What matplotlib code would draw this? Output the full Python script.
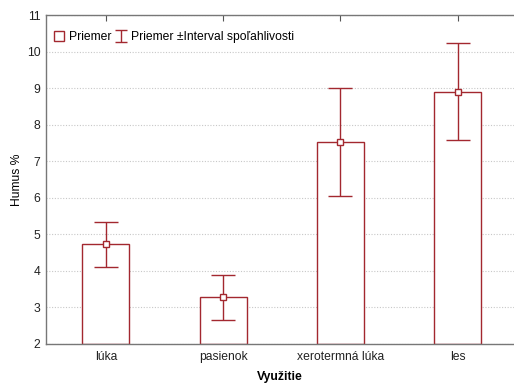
import matplotlib
matplotlib.use("Agg")
import matplotlib.pyplot as plt
from matplotlib.lines import Line2D
import numpy as np

plt.rcParams['font.family'] = ['Liberation Sans', 'DejaVu Sans']

categories = ["lúka", "pasienok", "xerotermná lúka", "les"]
means = [4.74, 3.29, 7.53, 8.90]
upper = [5.34, 3.88, 8.99, 10.23]
lower = [4.12, 2.67, 6.05, 7.59]

red = "#a3282f"
fig = plt.figure(figsize=(5.14, 3.84), dpi=100)
ax = fig.add_axes([46/514, 1-344/384, (514-46)/514, (344-15)/384])

x = np.arange(len(categories))
ax.bar(x, [m - 2 for m in means], bottom=2, width=0.4, facecolor="white",
       edgecolor=red, linewidth=1.0, zorder=2)
yerr = np.array([[m - l for m, l in zip(means, lower)],
                 [u - m for m, u in zip(means, upper)]])
ax.errorbar(x, means, yerr=yerr, fmt="none", ecolor=red, elinewidth=1.0,
            capsize=8.5, capthick=1.0, zorder=3)
ax.plot(x, means, ls="none", marker="s", ms=4.5, mfc="white", mec=red,
        mew=1.0, zorder=4)

ax.set_ylim(2, 11)
ax.set_xlim(-0.51, 3.48)
ax.set_yticks(range(2, 12))
ax.set_xticks(x)
ax.set_xticklabels(categories)
ax.yaxis.grid(True, linestyle=(0, (1, 1.5)), color="#c8c8c8", linewidth=0.8, zorder=0)
ax.set_axisbelow(True)
ax.tick_params(axis="both", labelsize=8.7, colors="#222222")
ax.tick_params(axis="x", direction="in", top=True, length=4, color="#555555", pad=5)
ax.tick_params(axis="y", direction="in", length=0, pad=4)
for s in ax.spines.values():
    s.set_color("#777777")
    s.set_linewidth(1.0)
ax.spines["right"].set_visible(False)

ax.set_xlabel("Využitie", fontsize=8.7, fontweight="bold", labelpad=6)
ax.set_ylabel("Humus %", fontsize=8.7, labelpad=3)

h1 = Line2D([], [], ls="none", marker="s", ms=7, mfc="white", mec=red, mew=1.0)
eb = ax.errorbar([np.nan], [np.nan], yerr=[1], fmt="none", ecolor=red,
                 capsize=4, elinewidth=1.0, capthick=1.0)
leg = ax.legend([h1, eb], ["Priemer", "Priemer ±Interval spoľahlivosti"],
                loc="upper left", ncol=2, frameon=False, fontsize=8.7,
                handlelength=1.0, handletextpad=0.3, columnspacing=0.3,
                bbox_to_anchor=(0.0, 0.972), borderaxespad=0.2)

fig.savefig("out.png", dpi=100)
